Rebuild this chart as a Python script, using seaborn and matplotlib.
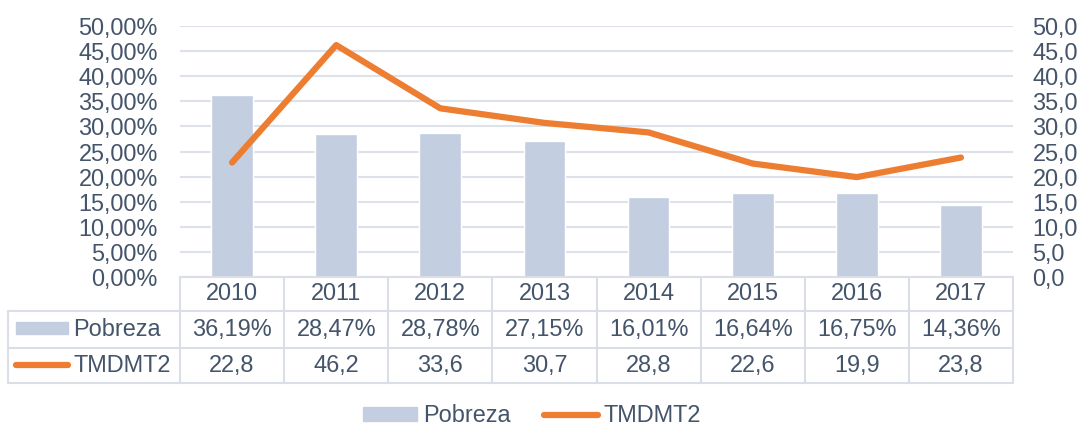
import numpy as np
import pandas as pd
import matplotlib
matplotlib.use("Agg")
import matplotlib.pyplot as plt
from matplotlib.lines import Line2D
from matplotlib.patches import Rectangle
import seaborn as sns

# ---- data ----
years = ["2010", "2011", "2012", "2013", "2014", "2015", "2016", "2017"]
pobreza = [36.19, 28.47, 28.78, 27.15, 16.01, 16.64, 16.75, 14.36]
tmdmt2 = [22.8, 46.2, 33.6, 30.7, 28.8, 22.6, 19.9, 23.8]
series_names = ["Pobreza", "TMDMT2"]

BAR = "#C3CEE0"
ORANGE = "#ED7D31"
TXT = "#44546A"
GRID = "#DDE2EA"

sns.set_theme(style="white")
plt.rcParams["font.family"] = ["Liberation Sans", "DejaVu Sans"]
FS = 16.9

W, H = 1083, 428
fig = plt.figure(figsize=(W / 100, H / 100), dpi=100)

def fx(px):
    return px / W

def fy(py):
    return 1 - py / H

L, R, T, B = 180, 1013, 26, 277
ax = fig.add_axes([fx(L), fy(B), fx(R) - fx(L), fy(T) - fy(B)])

df = pd.DataFrame({"year": years, "pobreza": pobreza, "tmdmt2": tmdmt2,
                   "pos": np.arange(len(years))})

sns.barplot(data=df, x="year", y="pobreza", color=BAR, width=0.4,
            saturation=1, ax=ax, zorder=2)
ax.set_ylim(0, 50)
ax.set_xlim(-0.5, len(years) - 0.5)
yt = np.arange(0, 51, 5)
ax.set_yticks(yt)
ax.set_yticklabels([f"{v:.2f}%".replace(".", ",") for v in yt], fontsize=FS, color=TXT)
ax.tick_params(axis="y", length=0, pad=16)
ax.set_xticks([])
ax.set_xlabel("")
ax.set_ylabel("")
ax.yaxis.grid(True, color=GRID, lw=1.5, zorder=0)
ax.set_axisbelow(True)
for s in ax.spines.values():
    s.set_visible(False)

ax2 = ax.twinx()
sns.lineplot(data=df, x="pos", y="tmdmt2", color=ORANGE, lw=4.5, ax=ax2,
             solid_capstyle="round", zorder=3)
ax2.set_ylim(0, 50)
ax2.set_yticks(yt)
ax2.set_yticklabels([f"{v:.1f}".replace(".", ",") for v in yt], fontsize=FS, color=TXT)
ax2.tick_params(axis="y", length=0, pad=14)
ax2.set_xlabel("")
ax2.set_ylabel("")
ax2.set_xlim(-0.5, len(years) - 0.5)
for s in ax2.spines.values():
    s.set_visible(False)

# ---- data table ----
n = len(years)
cw = (R - L) / n
rows = [277, 311, 348, 383]
lc = "#D9DEE7"
lw = 1.5

def hline(y, x0, x1):
    fig.add_artist(Line2D([fx(x0), fx(x1)], [fy(y), fy(y)], color=lc, lw=lw))

def vline(x, y0, y1):
    fig.add_artist(Line2D([fx(x), fx(x)], [fy(y0), fy(y1)], color=lc, lw=lw))

hline(rows[0], L, R)
for y in rows[1:]:
    hline(y, 8, R)
for k in range(n + 1):
    vline(L + k * cw, rows[0], rows[3])
vline(8, rows[1], rows[3])

for i, yr in enumerate(years):
    cx = L + (i + 0.5) * cw
    fig.text(fx(cx), fy((rows[0] + rows[1]) / 2), yr, ha="center", va="center",
             fontsize=FS, color=TXT)
    fig.text(fx(cx), fy((rows[1] + rows[2]) / 2),
             f"{pobreza[i]:.2f}%".replace(".", ","), ha="center", va="center",
             fontsize=FS, color=TXT)
    fig.text(fx(cx), fy((rows[2] + rows[3]) / 2),
             f"{tmdmt2[i]:.1f}".replace(".", ","), ha="center", va="center",
             fontsize=FS, color=TXT)

# row keys
fig.add_artist(Rectangle((fx(16), fy(334)), fx(68) - fx(16), fy(322) - fy(334),
                         color=BAR, transform=fig.transFigure))
fig.text(fx(73), fy((rows[1] + rows[2]) / 2), series_names[0], ha="left",
         va="center", fontsize=FS, color=TXT)
fig.add_artist(Line2D([fx(16), fx(68)], [fy(365), fy(365)], color=ORANGE, lw=4.5,
                      solid_capstyle="round"))
fig.text(fx(73), fy((rows[2] + rows[3]) / 2), series_names[1], ha="left",
         va="center", fontsize=FS, color=TXT)

# ---- bottom legend ----
handles = [Rectangle((0, 0), 1, 1, color=BAR),
           Line2D([0], [0], color=ORANGE, lw=4.5, solid_capstyle="round")]
leg = fig.legend(handles, series_names, loc="center", bbox_to_anchor=(fx(532), fy(416)),
                 ncol=2, frameon=False, fontsize=FS, handlelength=2.3,
                 handleheight=0.55, handletextpad=0.25, columnspacing=1.4)
for t in leg.get_texts():
    t.set_color(TXT)

fig.savefig("out.png", dpi=100)
